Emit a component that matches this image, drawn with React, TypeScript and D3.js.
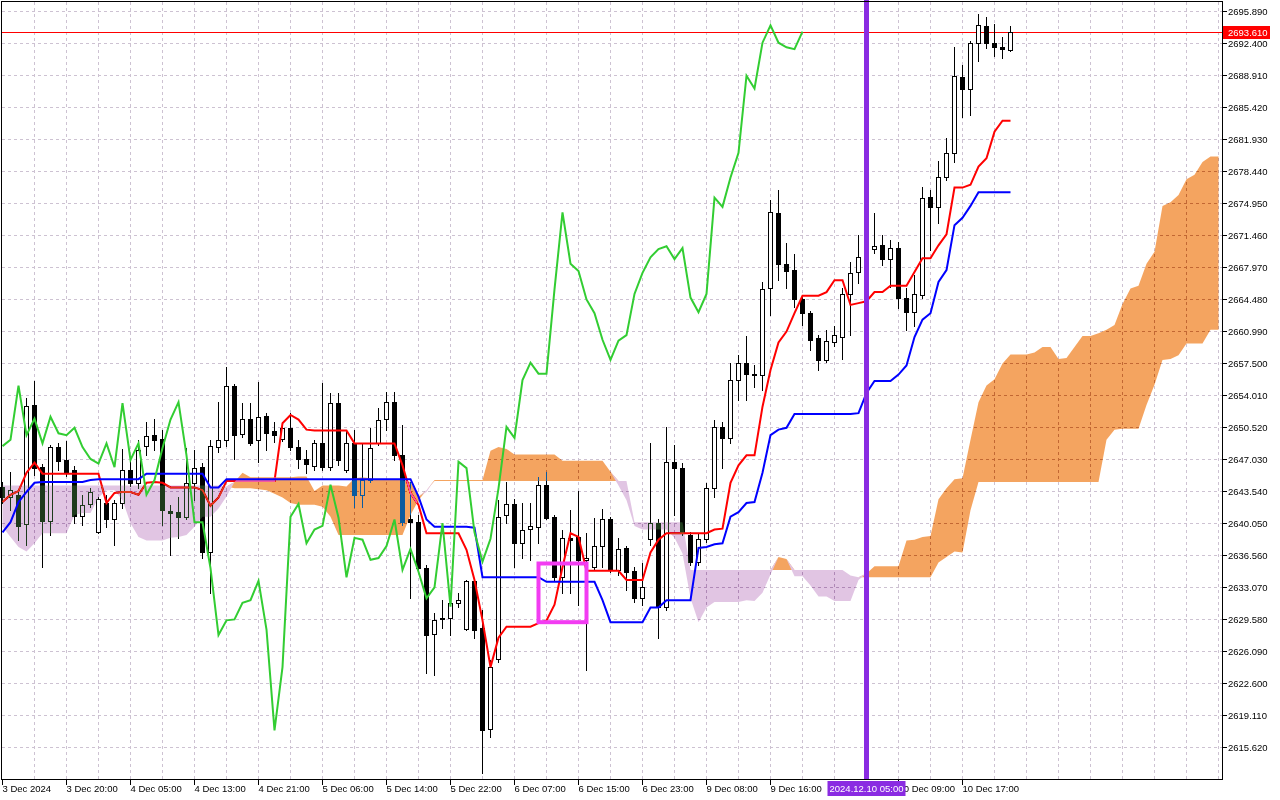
import React, { useEffect, useRef } from "react";
import * as d3 from "d3";

// XAUUSD H1, bars from 3 Dec 12:00 to 10 Dec 18:00
const opens = [
  2643.9, 2642.8, 2643.1, 2639.9, 2652.9, 2646.1, 2640.2, 2648.3, 2646.9, 2645.8,
  2640.8, 2642.1, 2639.0, 2642.2, 2640.5, 2642.2, 2645.8, 2644.4, 2648.4, 2649.6,
  2649.2, 2641.3, 2641.2, 2640.7, 2644.4, 2646.1, 2636.9, 2648.3, 2649.1, 2655.0,
  2649.7, 2651.4, 2649.1, 2651.7, 2650.1, 2649.2, 2650.4, 2648.3, 2647.0, 2646.2,
  2648.7, 2646.1, 2653.1, 2645.8, 2648.7, 2643.1, 2644.7, 2648.7, 2651.4, 2653.2,
  2647.4, 2640.4, 2640.1, 2635.1, 2627.9, 2629.7, 2629.7, 2631.3, 2628.5, 2633.7,
  2628.6, 2617.6, 2625.2, 2640.9, 2642.1, 2637.8, 2639.4, 2639.6, 2644.2, 2640.7,
  2634.1, 2638.4, 2638.5, 2636.0, 2635.2, 2637.5, 2640.5, 2634.9, 2637.3, 2634.8,
  2631.8, 2638.3, 2640.0, 2630.9, 2646.7, 2646.0, 2638.7, 2635.8, 2638.3, 2643.8,
  2650.5, 2649.3, 2655.6, 2657.5, 2656.2, 2656.2, 2665.6, 2673.8, 2668.3, 2667.6,
  2664.4, 2662.9, 2660.2, 2657.8, 2659.8, 2660.3, 2665.0, 2667.4, 2669.0, 2669.9,
  2670.3, 2668.8, 2670.0, 2664.6, 2663.0, 2664.9, 2675.6, 2674.5, 2677.7, 2680.4,
  2688.7, 2687.4, 2692.4, 2694.2, 2692.4, 2691.9, 2691.6,
];
const highs = [
  2644.5, 2645.6, 2643.6, 2653.7, 2655.5, 2646.5, 2648.5, 2648.7, 2649.0, 2646.2,
  2643.1, 2643.8, 2642.9, 2643.1, 2642.5, 2648.1, 2647.0, 2649.1, 2651.0, 2651.4,
  2650.2, 2642.0, 2642.8, 2648.2, 2648.0, 2646.6, 2649.1, 2653.2, 2657.0, 2655.2,
  2653.1, 2653.1, 2655.4, 2652.0, 2651.0, 2651.0, 2652.0, 2649.1, 2648.0, 2649.1,
  2655.3, 2654.2, 2654.2, 2650.2, 2650.2, 2648.7, 2650.4, 2652.6, 2654.3, 2654.3,
  2650.7, 2644.5, 2640.9, 2635.4, 2630.2, 2631.6, 2631.9, 2632.4, 2633.8, 2634.0,
  2630.5, 2625.1, 2642.5, 2644.5, 2642.6, 2642.2, 2642.2, 2645.0, 2645.6, 2640.9,
  2639.3, 2641.4, 2643.5, 2638.9, 2640.6, 2641.5, 2640.7, 2638.4, 2637.5, 2635.2,
  2635.7, 2648.7, 2640.4, 2650.5, 2648.5, 2646.6, 2639.0, 2638.9, 2644.4, 2651.3,
  2651.0, 2657.5, 2658.3, 2660.4, 2657.3, 2666.3, 2675.2, 2676.3, 2670.6, 2669.4,
  2664.9, 2663.1, 2660.5, 2661.1, 2661.5, 2665.6, 2668.5, 2671.4, 2670.9, 2673.8,
  2671.4, 2670.9, 2670.7, 2665.6, 2667.1, 2676.7, 2676.3, 2679.5, 2682.0, 2691.9,
  2690.0, 2692.6, 2695.5, 2695.2, 2694.4, 2693.0, 2694.2,
];
const lows = [
  2642.2, 2641.4, 2638.2, 2637.6, 2645.3, 2635.2, 2638.7, 2645.8, 2645.1, 2640.0,
  2639.8, 2641.8, 2638.9, 2639.6, 2637.6, 2641.7, 2644.0, 2643.8, 2647.4, 2648.0,
  2639.8, 2636.5, 2638.4, 2640.4, 2642.5, 2636.2, 2632.4, 2647.8, 2648.4, 2647.0,
  2649.4, 2648.5, 2646.7, 2648.0, 2648.9, 2649.0, 2648.0, 2646.0, 2645.5, 2645.8,
  2645.8, 2645.8, 2646.3, 2645.6, 2641.8, 2641.8, 2644.5, 2648.5, 2650.2, 2646.9,
  2639.8, 2631.8, 2634.9, 2623.7, 2623.4, 2628.6, 2627.8, 2630.9, 2628.4, 2627.5,
  2612.8, 2616.7, 2624.9, 2640.0, 2635.2, 2636.2, 2636.0, 2637.8, 2640.4, 2633.8,
  2632.4, 2632.4, 2631.1, 2624.0, 2634.9, 2635.2, 2634.7, 2634.4, 2632.7, 2631.4,
  2631.1, 2637.6, 2627.5, 2630.5, 2640.9, 2638.7, 2635.4, 2635.4, 2637.9, 2642.9,
  2646.0, 2648.7, 2653.4, 2653.4, 2654.9, 2654.5, 2662.7, 2666.5, 2665.6, 2663.6,
  2661.6, 2658.9, 2656.7, 2657.6, 2659.3, 2657.9, 2660.5, 2666.2, 2668.5, 2669.5,
  2668.2, 2665.8, 2663.5, 2661.1, 2661.5, 2664.6, 2669.8, 2672.7, 2677.4, 2679.4,
  2684.3, 2684.5, 2690.4, 2691.8, 2691.0, 2690.7, 2691.5,
];
const closes = [
  2642.8, 2643.6, 2639.7, 2652.8, 2646.0, 2640.2, 2648.3, 2646.8, 2645.6, 2640.8,
  2642.0, 2643.4, 2642.6, 2640.5, 2642.2, 2645.8, 2644.4, 2648.0, 2649.5, 2649.1,
  2641.4, 2641.1, 2640.7, 2644.4, 2646.0, 2636.9, 2648.4, 2649.1, 2655.0, 2649.6,
  2651.4, 2648.7, 2651.6, 2649.8, 2649.6, 2650.4, 2648.3, 2647.0, 2646.5, 2648.7,
  2646.1, 2653.1, 2646.9, 2648.7, 2643.1, 2644.7, 2648.2, 2651.3, 2653.2, 2647.4,
  2640.1, 2640.1, 2635.1, 2627.8, 2629.4, 2629.5, 2631.3, 2631.6, 2633.7, 2628.4,
  2617.4, 2624.3, 2640.7, 2642.1, 2637.8, 2639.3, 2639.7, 2644.2, 2640.6, 2634.1,
  2638.4, 2638.2, 2636.0, 2636.2, 2637.5, 2640.4, 2634.9, 2637.2, 2634.7, 2631.8,
  2633.0, 2640.0, 2630.9, 2646.7, 2646.0, 2639.0, 2635.8, 2638.3, 2643.8, 2650.5,
  2649.3, 2655.6, 2657.5, 2656.3, 2656.3, 2665.5, 2673.9, 2668.3, 2667.5, 2664.4,
  2662.9, 2660.0, 2657.8, 2659.9, 2660.5, 2665.0, 2667.3, 2669.0, 2669.9, 2670.2,
  2668.8, 2670.0, 2664.6, 2663.0, 2665.0, 2675.5, 2674.5, 2677.7, 2680.4, 2688.8,
  2687.4, 2692.4, 2694.3, 2692.4, 2691.9, 2691.7, 2693.61,
];

// Ichimoku 9/26/52
const tenkan = [
  2642.3, 2643.1, 2643.5, 2645.5, 2646.6,
  2645.4, 2645.4, 2645.4, 2645.4, 2645.4, 2645.4, 2645.4, 2645.4,
  2642.2, 2643.3, 2643.4, 2643.4, 2643.1, 2644.4, 2644.5, 2644.4,
  2643.9, 2643.9, 2643.9, 2643.9, 2643.6, 2641.9, 2642.8,
  2644.6, 2644.6, 2644.6, 2644.6, 2644.6, 2644.6, 2644.6,
  2650.9, 2651.8, 2651.3, 2650.2, 2650.1, 2650.1, 2650.1, 2650.1, 2650.1,
  2648.7, 2648.7, 2648.7, 2648.7, 2648.7, 2648.7, 2646.3, 2643.3, 2642.0,
  2638.9, 2638.9, 2638.9, 2638.9, 2638.9, 2637.1, 2633.8, 2629.4, 2624.3, 2627.5,
  2628.7, 2628.7, 2628.7, 2628.7, 2629.1, 2629.4, 2631.1, 2635.2, 2638.9, 2638.5,
  2634.8, 2634.8, 2634.8, 2634.8, 2634.8, 2633.8, 2633.8, 2633.8, 2636.8, 2638.2,
  2638.9, 2638.9, 2638.9, 2638.9, 2638.9, 2638.9, 2639.3, 2639.4, 2644.4, 2646.3,
  2647.4, 2647.4, 2652.7, 2656.7, 2659.7, 2660.9, 2662.9, 2664.8, 2664.8, 2664.8,
  2665.2, 2666.5, 2666.5, 2663.8, 2664.0, 2664.2, 2665.2, 2665.2, 2665.9, 2665.9,
  2665.9, 2667.4, 2668.9, 2668.9, 2670.3, 2671.5, 2676.6, 2676.6, 2676.9, 2678.9,
  2679.8, 2682.7, 2683.9, 2683.9,
];
const kijun = [
  2639.0, 2640.1, 2642.3, 2643.4, 2644.4, 2644.5, 2644.5, 2644.5, 2644.5, 2644.5,
  2644.5, 2644.7, 2644.8, 2644.8, 2644.8, 2644.8, 2644.8, 2644.8, 2645.4, 2645.4,
  2645.4, 2645.4, 2645.4, 2645.4, 2645.4, 2645.4, 2643.9, 2643.9, 2644.8, 2644.8,
  2644.8, 2644.8, 2644.8, 2644.8, 2644.8, 2644.8, 2644.8, 2644.8, 2644.8, 2644.8,
  2644.8, 2644.8, 2644.8, 2644.8, 2644.8, 2644.8, 2644.8, 2644.8, 2644.8, 2644.8,
  2644.8, 2644.8, 2642.9, 2640.4, 2639.6, 2639.6, 2639.6, 2639.6, 2639.6, 2639.5,
  2634.1, 2634.1, 2634.1, 2634.1, 2634.1, 2634.1, 2634.1, 2634.1, 2633.6, 2633.6,
  2633.6, 2633.6, 2633.6, 2633.6, 2633.6, 2631.6, 2629.2, 2629.2, 2629.2, 2629.2,
  2629.2, 2630.8, 2630.8, 2631.6, 2631.6, 2631.6, 2631.6, 2637.3, 2637.4, 2637.7,
  2637.8, 2640.7, 2641.2, 2642.2, 2642.3, 2645.5, 2649.6, 2650.2, 2650.4, 2651.9,
  2651.9, 2651.9, 2651.9, 2651.9, 2651.9, 2651.9, 2651.9, 2652.0, 2654.2, 2655.5,
  2655.5, 2655.5, 2656.2, 2657.2, 2660.3, 2662.2, 2662.9, 2666.3, 2667.6, 2672.5,
  2673.3, 2674.6, 2676.1, 2676.1, 2676.1, 2676.1, 2676.1,
];
// cloud spans run 26 bars past the last candle
const senkouA = [
  2639.6, 2638.5, 2637.4, 2636.9, 2637.8, 2638.9, 2638.9, 2638.9, 2638.9, 2640.9,
  2641.1, 2641.1, 2642.8, 2643.6, 2643.6, 2642.5, 2640.0, 2638.5, 2638.1, 2638.1,
  2638.1, 2638.4, 2638.5, 2638.7, 2639.6, 2640.7, 2640.7, 2641.6, 2642.9, 2644.5,
  2645.5, 2645.0, 2645.0, 2645.0, 2645.0, 2645.0, 2645.0, 2645.1, 2645.1, 2643.5,
  2644.1, 2644.1, 2644.1, 2644.0, 2644.9, 2645.0, 2644.9, 2644.7, 2644.7, 2644.7,
  2644.7, 2644.5, 2642.9, 2643.4, 2644.7, 2644.7, 2644.7, 2644.7, 2644.7, 2644.7,
  2644.7, 2647.9, 2648.3, 2648.1, 2647.5, 2647.5, 2647.5, 2647.5, 2647.5, 2647.5,
  2646.8, 2646.8, 2646.8, 2646.8, 2646.8, 2646.8, 2645.6, 2644.1, 2642.5, 2639.7,
  2639.3, 2639.3, 2639.3, 2639.3, 2638.4, 2636.7, 2631.8, 2629.2, 2630.8, 2631.4,
  2631.4, 2631.4, 2631.4, 2631.6, 2631.5, 2632.4, 2634.4, 2636.3, 2636.1, 2634.2,
  2634.2, 2633.2, 2632.0, 2632.0, 2631.5, 2631.5, 2631.5, 2633.8, 2634.5, 2635.3,
  2635.3, 2635.3, 2635.3, 2638.1, 2638.2, 2638.5, 2638.6, 2642.6, 2643.8, 2644.8,
  2644.9, 2649.1, 2653.2, 2655.0, 2655.7, 2657.4, 2658.4, 2658.4, 2658.4, 2658.6,
  2659.2, 2659.2, 2657.9, 2658.0, 2659.2, 2660.4, 2660.4, 2660.7, 2661.1, 2661.6,
  2663.9, 2665.6, 2665.9, 2668.3, 2669.6, 2674.6, 2675.0, 2675.8, 2677.5, 2678.0,
  2679.4, 2680.0, 2680.0,
];
const senkouB = [
  2644.1, 2644.1, 2644.1, 2644.1, 2644.1, 2644.1, 2644.1, 2644.1, 2644.1, 2644.1,
  2644.1, 2644.1, 2644.1, 2644.1, 2644.1, 2644.1, 2644.1, 2644.1, 2644.1, 2644.1,
  2644.1, 2644.1, 2644.1, 2644.1, 2644.1, 2644.1, 2644.1, 2644.1, 2644.0, 2643.8,
  2643.8, 2643.8, 2643.7, 2643.6, 2643.2, 2642.8, 2642.2, 2642.0, 2642.0, 2642.0,
  2641.8, 2640.7, 2638.7, 2638.7, 2638.7, 2638.7, 2638.7, 2638.7, 2638.7, 2638.7,
  2638.7, 2640.9, 2642.5, 2643.6, 2644.6, 2644.6, 2644.6, 2644.6, 2644.6, 2644.6,
  2644.6, 2644.6, 2644.6, 2644.6, 2644.6, 2644.6, 2644.6, 2644.6, 2644.6, 2644.6,
  2644.6, 2644.6, 2644.6, 2644.6, 2644.6, 2644.6, 2644.6, 2644.6, 2644.6, 2640.1,
  2640.1, 2640.1, 2640.1, 2640.1, 2640.1, 2640.1, 2634.9, 2634.9, 2634.9, 2634.9,
  2634.9, 2634.9, 2634.9, 2634.9, 2634.9, 2634.9, 2634.9, 2634.9, 2634.9, 2634.9,
  2634.9, 2634.9, 2634.9, 2634.9, 2634.9, 2634.9, 2634.3, 2634.1, 2634.1, 2634.1,
  2634.1, 2634.1, 2634.1, 2634.1, 2634.1, 2634.1, 2634.1, 2635.7, 2636.3, 2636.9,
  2636.8, 2641.4, 2644.5, 2644.5, 2644.5, 2644.5, 2644.5, 2644.5, 2644.5, 2644.5,
  2644.5, 2644.5, 2644.5, 2644.5, 2644.5, 2644.5, 2644.5, 2644.5, 2649.1, 2650.2,
  2650.3, 2650.3, 2650.3, 2652.9, 2655.1, 2657.8, 2657.9, 2658.3, 2659.6, 2659.6,
  2659.6, 2661.1, 2661.1,
];
const CHIKOU_SHIFT = 26;

const LAST_PRICE = 2693.61;
const priceTicks = [
  2695.89, 2692.4, 2688.91, 2685.42, 2681.93, 2678.44, 2674.95, 2671.46,
  2667.97, 2664.48, 2660.99, 2657.5, 2654.01, 2650.52, 2647.03, 2643.54,
  2640.05, 2636.56, 2633.07, 2629.58, 2626.09, 2622.6, 2619.11, 2615.62,
];
// the 10 Dec 01:00 label sits under the marker tag and is not shown
const timeBars = [0, 8, 16, 24, 32, 40, 48, 56, 64, 72, 80, 88, 96, 112, 120];
const timeTexts = [
  "3 Dec 2024", "3 Dec 20:00", "4 Dec 05:00", "4 Dec 13:00", "4 Dec 21:00",
  "5 Dec 06:00", "5 Dec 14:00", "5 Dec 22:00", "6 Dec 07:00", "6 Dec 15:00",
  "6 Dec 23:00", "9 Dec 08:00", "9 Dec 16:00", "10 Dec 09:00", "10 Dec 17:00",
];
const markerBar = 108;
const markerText = "2024.12.10 05:00";
const boxBars = [67, 73];
const boxPrices = [2635.6, 2629.2];

const W = 1280;
const H = 800;
const PLOT_R = 1222.5;
const PLOT_B = 779.5;
const FONT = "'Liberation Sans', Arial, sans-serif";

export default function App() {
  const ref = useRef<SVGSVGElement>(null);

  useEffect(() => {
    document.body.style.margin = "0";
    if (ref.current) drawChart(ref.current);
  }, []);

  return <svg ref={ref} width={W} height={H} style={styles.svg} />;
}

function drawChart(svg: SVGSVGElement) {
  const el = d3.select(svg);
  el.selectAll("*").remove();

  const nCloud = senkouA.length;
  const x = d3.scaleLinear().domain([0, nCloud - 1]).range([2.5, 2.5 + 8 * (nCloud - 1)]);
  const y = d3.scaleLinear().domain([2615.62, 2695.89]).range([746.7, 10.7]);
  const snap = (v: number) => Math.round(v) + 0.5;

  el.append("rect").attr("width", W).attr("height", H).attr("fill", "#fff");

  // Grid
  const grid = el.append("g")
    .attr("stroke", "#cdc2d2")
    .attr("stroke-dasharray", "3,3")
    .attr("shape-rendering", "crispEdges");
  priceTicks.forEach((p) => {
    grid.append("line").attr("x1", 2).attr("x2", PLOT_R).attr("y1", snap(y(p))).attr("y2", snap(y(p)));
  });
  d3.range(4, nCloud, 4).forEach((i) => {
    grid.append("line").attr("x1", x(i)).attr("x2", x(i)).attr("y1", 2).attr("y2", PLOT_B);
  });

  // Bid line
  el.append("line")
    .attr("x1", 2).attr("x2", PLOT_R)
    .attr("y1", snap(y(LAST_PRICE))).attr("y2", snap(y(LAST_PRICE)))
    .attr("stroke", "#ff0000").attr("shape-rendering", "crispEdges");

  // Candles
  const cg = el.append("g").attr("shape-rendering", "crispEdges");
  opens.forEach((o, i) => {
    const c = closes[i];
    const cx = x(i);
    cg.append("line")
      .attr("x1", cx).attr("x2", cx)
      .attr("y1", Math.round(y(highs[i]))).attr("y2", Math.round(y(lows[i])) + 1)
      .attr("stroke", "#000");
    const top = Math.round(y(Math.max(o, c)));
    const bot = Math.round(y(Math.min(o, c)));
    cg.append("rect")
      .attr("x", cx - 2).attr("y", top + 0.5)
      .attr("width", 4).attr("height", Math.max(bot - top, 0))
      .attr("fill", c >= o ? "#fff" : "#000")
      .attr("stroke", "#000");
  });

  const line = d3.line<number>().x((_, i) => x(i)).y((d) => y(d));

  el.append("path").datum(tenkan)
    .attr("fill", "none").attr("stroke", "#ff0000").attr("stroke-width", 2)
    .attr("d", line);

  // Cloud, inverted colours blended like the terminal's XOR fill
  const idx = d3.range(nCloud);
  const upper = (j: number) => Math.max(senkouA[j], senkouB[j]);
  const bull = d3.area<number>().x((j) => x(j)).y0((j) => y(senkouB[j])).y1((j) => y(upper(j)));
  const bear = d3.area<number>().x((j) => x(j)).y0((j) => y(senkouA[j])).y1((j) => y(upper(j)));
  const cloud = el.append("g").style("mix-blend-mode", "difference");
  cloud.append("path").datum(idx).attr("d", bull).attr("fill", "rgb(11,91,159)");
  cloud.append("path").datum(idx).attr("d", bear).attr("fill", "rgb(30,58,28)");

  el.append("path").datum(kijun)
    .attr("fill", "none").attr("stroke", "#0000ff").attr("stroke-width", 2)
    .attr("d", line);

  el.append("path").datum(closes.slice(CHIKOU_SHIFT))
    .attr("fill", "none").attr("stroke", "#32cd32").attr("stroke-width", 2)
    .attr("d", line);

  // Objects
  el.append("rect")
    .attr("x", x(boxBars[0])).attr("y", y(boxPrices[0]))
    .attr("width", x(boxBars[1]) - x(boxBars[0]))
    .attr("height", y(boxPrices[1]) - y(boxPrices[0]))
    .attr("fill", "none").attr("stroke", "#f23cf2").attr("stroke-width", 4);

  el.append("line")
    .attr("x1", x(markerBar)).attr("x2", x(markerBar))
    .attr("y1", 0).attr("y2", PLOT_B)
    .attr("stroke", "#8a2be2").attr("stroke-width", 5);

  // Frame
  el.append("rect")
    .attr("x", 1.5).attr("y", 1.5)
    .attr("width", PLOT_R - 1.5).attr("height", PLOT_B - 1.5)
    .attr("fill", "none").attr("stroke", "#000").attr("shape-rendering", "crispEdges");

  // Price axis
  const pa = el.append("g").attr("font-family", FONT).attr("font-size", 9.5);
  priceTicks.forEach((p) => {
    const yy = snap(y(p));
    pa.append("line").attr("x1", PLOT_R).attr("x2", PLOT_R + 4).attr("y1", yy).attr("y2", yy)
      .attr("stroke", "#000").attr("shape-rendering", "crispEdges");
    pa.append("text").attr("x", 1228).attr("y", yy + 3.5).attr("fill", "#000").text(p.toFixed(3));
  });
  const by = snap(y(LAST_PRICE));
  pa.append("rect").attr("x", 1223).attr("y", by - 6.5).attr("width", 47).attr("height", 13).attr("fill", "#ff0000");
  pa.append("text").attr("x", 1228).attr("y", by + 3.5).attr("fill", "#fff").text(LAST_PRICE.toFixed(3));

  // Time axis
  const ta = el.append("g").attr("font-family", FONT).attr("font-size", 9.5);
  timeBars.forEach((b, k) => {
    ta.append("line").attr("x1", x(b)).attr("x2", x(b)).attr("y1", PLOT_B).attr("y2", PLOT_B + 5)
      .attr("stroke", "#000").attr("shape-rendering", "crispEdges");
    ta.append("text").attr("x", x(b)).attr("y", 792).attr("fill", "#000").text(timeTexts[k]);
  });
  const mx = x(markerBar);
  ta.append("rect").attr("x", mx - 39).attr("y", 781).attr("width", 78).attr("height", 15).attr("fill", "#8a2be2");
  ta.append("text").attr("x", mx).attr("y", 792).attr("text-anchor", "middle").attr("fill", "#fff").text(markerText);
}

const styles: Record<string, React.CSSProperties> = {
  svg: { display: "block", background: "#fff" },
};
